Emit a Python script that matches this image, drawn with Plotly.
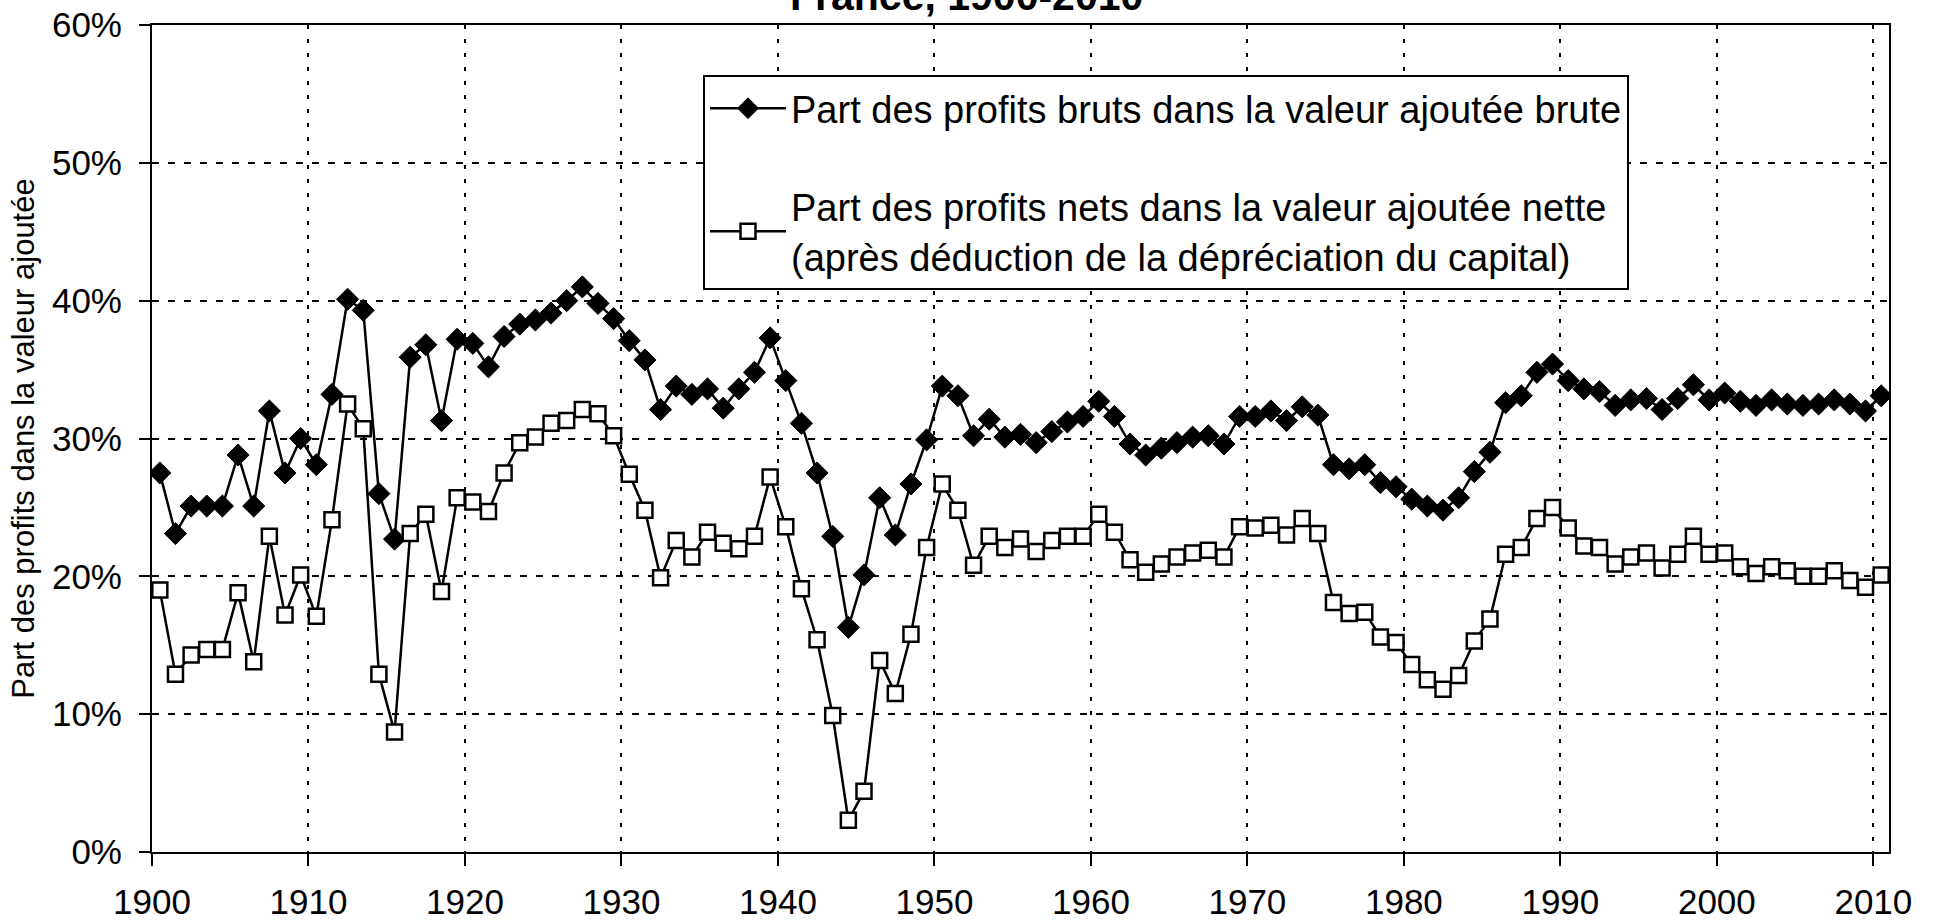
import plotly.graph_objects as go

years = list(range(1900, 2011))

gross_share = [
    27.5, 23.1, 25.1, 25.1, 25.1, 28.8, 25.1, 32.0, 27.5, 30.0,   # 1900-1909
    28.1, 33.2, 40.1, 39.3, 26.0, 22.7, 35.9, 36.8, 31.3, 37.2,   # 1910-1919
    36.9, 35.2, 37.4, 38.3, 38.6, 39.1, 40.0, 41.0, 39.8, 38.7,   # 1920-1929
    37.1, 35.7, 32.1, 33.8, 33.2, 33.6, 32.2, 33.6, 34.8, 37.3,   # 1930-1939
    34.2, 31.1, 27.5, 22.9, 16.3, 20.1, 25.7, 23.0, 26.7, 29.9,   # 1940-1949
    33.8, 33.1, 30.2, 31.4, 30.1, 30.3, 29.7, 30.5, 31.2, 31.6,   # 1950-1959
    32.7, 31.6, 29.6, 28.8, 29.3, 29.7, 30.1, 30.2, 29.6, 31.6,   # 1960-1969
    31.6, 32.0, 31.3, 32.3, 31.7, 28.1, 27.8, 28.1, 26.8, 26.5,   # 1970-1979
    25.6, 25.1, 24.8, 25.7, 27.6, 29.0, 32.6, 33.1, 34.8, 35.4,   # 1980-1989
    34.2, 33.6, 33.4, 32.4, 32.8, 32.9, 32.1, 32.9, 33.9, 32.8,   # 1990-1999
    33.3, 32.7, 32.4, 32.8, 32.5, 32.4, 32.5, 32.8, 32.5, 32.0,   # 2000-2009
    33.1,                                                         # 2010
]

net_share = [
    19.0, 12.9, 14.3, 14.7, 14.7, 18.8, 13.8, 22.9, 17.2, 20.1,   # 1900-1909
    17.1, 24.1, 32.5, 30.7, 12.9, 8.7, 23.1, 24.5, 18.9, 25.7,    # 1910-1919
    25.4, 24.7, 27.5, 29.7, 30.1, 31.1, 31.3, 32.1, 31.8, 30.2,   # 1920-1929
    27.4, 24.8, 19.9, 22.6, 21.4, 23.2, 22.4, 22.0, 22.9, 27.2,   # 1930-1939
    23.6, 19.1, 15.4, 9.9, 2.3, 4.4, 13.9, 11.5, 15.8, 22.1,      # 1940-1949
    26.7, 24.8, 20.8, 22.9, 22.1, 22.7, 21.8, 22.6, 22.9, 22.9,   # 1950-1959
    24.5, 23.2, 21.2, 20.3, 20.9, 21.4, 21.7, 21.9, 21.4, 23.6,   # 1960-1969
    23.5, 23.7, 23.0, 24.2, 23.1, 18.1, 17.3, 17.4, 15.6, 15.2,   # 1970-1979
    13.6, 12.5, 11.8, 12.8, 15.3, 16.9, 21.6, 22.1, 24.2, 25.0,   # 1980-1989
    23.5, 22.2, 22.1, 20.9, 21.4, 21.7, 20.6, 21.6, 22.9, 21.6,   # 1990-1999
    21.7, 20.7, 20.2, 20.7, 20.4, 20.0, 20.0, 20.4, 19.7, 19.2,   # 2000-2009
    20.1,                                                         # 2010
]

x_tick_labels = ["1900", "1910", "1920", "1930", "1940", "1950",
                 "1960", "1970", "1980", "1990", "2000", "2010"]
y_ticks = [0, 10, 20, 30, 40, 50, 60]

title_text = "France, 1900-2010"
y_title = "Part des profits dans la valeur ajoutée"
name_gross = "Part des profits bruts dans la valeur ajoutée brute"
name_net = ("Part des profits nets dans la valeur ajoutée nette<br>"
            "(après déduction de la dépréciation du capital)")

FONT = "Liberation Sans, Arial, sans-serif"

fig = go.Figure()
fig.add_trace(go.Scatter(
    x=years, y=gross_share, mode="lines+markers", name=name_gross,
    legendgroup="g1",
    line=dict(color="black", width=2.5),
    marker=dict(symbol="diamond", size=17, color="black",
                line=dict(color="black", width=1)),
))
fig.add_trace(go.Scatter(
    x=years, y=net_share, mode="lines+markers", name=name_net,
    legendgroup="g2",
    line=dict(color="black", width=2.5),
    marker=dict(symbol="square", size=15, color="white",
                line=dict(color="black", width=2.5)),
))

# Category-style axis: each year occupies a slot, labels sit at slot edges
tickvals = [int(t) - 0.5 for t in x_tick_labels]

fig.update_layout(
    template="none",
    width=1945, height=923,
    paper_bgcolor="white", plot_bgcolor="white",
    margin=dict(l=152, r=56, t=25, b=71, pad=0),
    font=dict(family=FONT, color="black", size=35),
    title=dict(text="<b>" + title_text + "</b>", x=0.497, xref="container",
               xanchor="center", y=1 - 10 / 923, yref="container",
               yanchor="bottom", font=dict(size=41, family=FONT, color="black")),
    showlegend=True,
    legend=dict(
        x=(703 - 152) / 1737, y=(852 - 75) / 827,
        xanchor="left", yanchor="top",
        bgcolor="white", bordercolor="black", borderwidth=2,
        font=dict(size=38, family=FONT, color="black"),
        tracegroupgap=46, itemwidth=76,
    ),
    xaxis=dict(
        range=[1899.5, 2010.5],
        tickmode="array", tickvals=tickvals, ticktext=x_tick_labels,
        showgrid=True, gridcolor="black", gridwidth=2, griddash="4px,10px",
        showline=True, linecolor="black", linewidth=2, mirror=True,
        ticks="outside", ticklen=12, tickwidth=2, tickcolor="black",
        ticklabelstandoff=6,
        tickfont=dict(size=35, family=FONT, color="black"),
        zeroline=False,
    ),
    yaxis=dict(
        range=[0, 60],
        tickmode="array", tickvals=y_ticks,
        ticktext=[f"{v}%" for v in y_ticks],
        showgrid=True, gridcolor="black", gridwidth=2, griddash="7px,9px",
        showline=True, linecolor="black", linewidth=2, mirror=True,
        ticks="outside", ticklen=11, tickwidth=2, tickcolor="black",
        ticklabelstandoff=10,
        tickfont=dict(size=35, family=FONT, color="black"),
        zeroline=False,
        title=dict(text=y_title, font=dict(size=31, family=FONT, color="black"),
                   standoff=8),
    ),
)

fig.write_html(
    "out.html",
    config={"displayModeBar": False},
    post_script="document.body.style.margin='0px';document.body.style.overflow='hidden';",
)
